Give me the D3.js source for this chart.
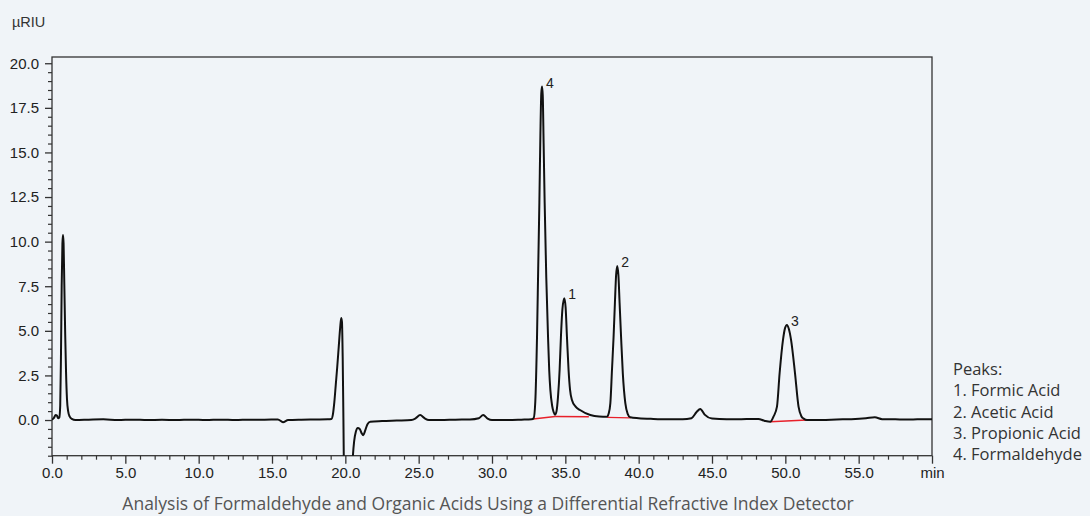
<!DOCTYPE html>
<html>
<head>
<meta charset="utf-8">
<script src="https://cdn.jsdelivr.net/npm/d3@7"></script>
<style>
  html, body { margin: 0; padding: 0; background: #f0f4f8; }
  svg { display: block; }
</style>
</head>
<body>
<svg id="chart" width="1090" height="516"></svg>
<script>
// Retention time (min) of each recorded point of the RI trace
const traceTime = [
  0.0, 0.12, 0.25, 0.33, 0.42, 0.5, 0.56, 0.61, 0.66, 0.71, 0.75, 0.79, 0.84, 0.9, 0.96, 1.02, 1.1, 1.2, 1.35, 1.6,
  2.5, 3.5, 4.5, 5.5, 6.5, 7.5, 8.5, 9.5, 10.5, 11.5, 12.5, 13.5, 14.5, 15.4, 15.75, 16.1, 17.0, 18.0, 18.8,
  19.05, 19.15, 19.25, 19.35, 19.45, 19.55, 19.65, 19.72, 19.77, 19.82, 19.87, 19.92,
  20.42, 20.5, 20.6, 20.72, 20.85, 20.98, 21.12, 21.22, 21.35, 21.5, 21.7, 22.5, 23.5, 24.5, 24.8, 25.1, 25.4, 25.7,
  26.5, 27.5, 28.5, 29.1, 29.4, 29.7, 30.0, 31.0, 32.0, 32.7,
  32.84, 32.95, 33.07, 33.15, 33.23, 33.3, 33.36, 33.41, 33.46, 33.52, 33.59, 33.7, 33.82, 33.9, 33.98, 34.1, 34.2, 34.3,
  34.4, 34.5, 34.61, 34.7, 34.8, 34.93, 35.02, 35.11, 35.22, 35.32, 35.45, 35.7, 36.0, 36.7, 37.3, 37.84,
  37.95, 38.07, 38.18, 38.29, 38.38, 38.46, 38.54, 38.62, 38.7, 38.8, 38.92, 39.09, 39.25, 39.43,
  40.0, 41.0, 42.0, 43.0, 43.6, 43.95, 44.2, 44.5, 45.0, 46.0, 47.0, 48.16, 48.6, 48.97,
  49.2, 49.43, 49.61, 49.84, 49.98, 50.11, 50.24, 50.39, 50.66, 50.9, 51.1, 51.25, 51.48,
  52.5, 53.5, 54.5, 55.5, 56.1, 56.6, 57.5, 58.5, 59.5, 60.0
];
// Detector response (µRIU) at each of those times
const traceSignal = [
  0.02, 0.1, 0.28, 0.25, 0.1, 0.15, 0.8, 3.5, 7.5, 9.9, 10.37, 9.9, 7.6, 4.8, 2.6, 1.2, 0.5, 0.2, 0.06, 0.0,
  0.02, 0.04, 0.0, 0.02, 0.0, 0.01, 0.0, 0.02, 0.0, 0.02, 0.0, 0.02, 0.02, 0.03, -0.12, 0.0, 0.02, 0.03, 0.04,
  0.06, 0.3, 1.0, 2.0, 3.0, 4.1, 5.2, 5.72, 5.5, 3.5, 0.0, -3.5,
  -3.5, -2.2, -1.2, -0.65, -0.45, -0.5, -0.75, -0.85, -0.6, -0.25, -0.1, -0.06, -0.03, 0.0, 0.1, 0.28, 0.1, 0.0,
  0.0, 0.02, 0.03, 0.1, 0.28, 0.08, 0.0, 0.0, 0.02, 0.04,
  0.1, 1.0, 4.7, 8.5, 12.2, 16.0, 18.3, 18.69, 18.2, 15.5, 12.2, 8.0, 4.67, 2.8, 1.68, 0.8, 0.45, 0.3,
  0.5, 1.3, 2.8, 4.67, 6.2, 6.82, 6.3, 4.67, 2.8, 1.7, 1.12, 0.75, 0.56, 0.28, 0.2, 0.19,
  0.35, 0.95, 2.8, 4.67, 6.56, 8.1, 8.64, 8.1, 6.56, 4.67, 2.6, 0.95, 0.35, 0.15,
  0.1, 0.06, 0.04, 0.04, 0.1, 0.45, 0.62, 0.3, 0.08, 0.04, 0.05, 0.06, -0.05, -0.1,
  0.2, 0.75, 2.62, 4.49, 5.15, 5.33, 5.1, 4.49, 2.62, 0.75, 0.2, 0.08, 0.0,
  0.0, 0.03, 0.05, 0.1, 0.15, 0.05, 0.04, 0.03, 0.05, 0.05
];

// Integration baselines drawn under the identified peaks: [t0, v0, t1, v1]
const peakBaselines = [
  [32.8, 0.06, 34.3, 0.2],
  [34.3, 0.2, 36.6, 0.18],
  [37.85, 0.15, 39.45, 0.12],
  [48.97, -0.1, 51.48, 0.0]
];

// Peak numbers and their apex positions
const peakNumbers = ["4", "1", "2", "3"];
const peakApexTime = [33.41, 34.93, 38.54, 50.11];
const peakApexSignal = [18.69, 6.82, 8.64, 5.33];

// Axis ticks
const xMajorTicks = [0, 5, 10, 15, 20, 25, 30, 35, 40, 45, 50, 55, 60];
const xTickLabels = ["0.0", "5.0", "10.0", "15.0", "20.0", "25.0", "30.0", "35.0", "40.0", "45.0", "50.0", "55.0", "min"];
const yMajorTicks = [0, 2.5, 5, 7.5, 10, 12.5, 15, 17.5, 20];
const yTickLabels = ["0.0", "2.5", "5.0", "7.5", "10.0", "12.5", "15.0", "17.5", "20.0"];

const legendTitle = "Peaks:";
const legendItems = ["1. Formic Acid", "2. Acetic Acid", "3. Propionic Acid", "4. Formaldehyde"];
const yUnit = "µRIU";
const caption = "Analysis of Formaldehyde and Organic Acids Using a Differential Refractive Index Detector";

// ---- layout ----
const plotLeft = 52, plotRight = 932, plotTop = 57, plotBottom = 455.7;
const svg = d3.select("#chart");
const axisColor = "#333";
const tickFont = "'Liberation Sans', Arial, sans-serif";
const textFont = "'Open Sans', 'Noto Sans', sans-serif";

const x = d3.scaleLinear().domain([0, 60]).range([plotLeft, plotRight]);
const y = d3.scaleLinear().domain([-2, 20.35]).range([plotBottom, plotTop]);

// minor tick positions
const xMinor = d3.range(0, 60.001, 1).filter(t => t % 5 !== 0);
const yMinor = d3.range(-2, 20.001, 0.5).map(v => +v.toFixed(2)).filter(v => Math.abs(v / 2.5 - Math.round(v / 2.5)) > 1e-6);

// X axis (major, labelled)
const xAxis = svg.append("g")
  .attr("transform", `translate(0,${plotBottom})`)
  .call(d3.axisBottom(x).tickValues(xMajorTicks).tickSize(8).tickPadding(4)
    .tickFormat((d, i) => xTickLabels[i]));
xAxis.select(".domain").remove();
xAxis.selectAll("line").attr("stroke", axisColor).attr("stroke-width", 1.3);
xAxis.selectAll("text").attr("fill", "#222").style("font-family", tickFont).style("font-size", "15px");

const xAxisMinor = svg.append("g")
  .attr("transform", `translate(0,${plotBottom})`)
  .call(d3.axisBottom(x).tickValues(xMinor).tickSize(4).tickFormat(""));
xAxisMinor.select(".domain").remove();
xAxisMinor.selectAll("line").attr("stroke", axisColor).attr("stroke-width", 1.2);

// Y axis
const yAxis = svg.append("g")
  .attr("transform", `translate(${plotLeft},0)`)
  .call(d3.axisLeft(y).tickValues(yMajorTicks).tickSize(7).tickPadding(6)
    .tickFormat((d, i) => yTickLabels[i]));
yAxis.select(".domain").remove();
yAxis.selectAll("line").attr("stroke", axisColor).attr("stroke-width", 1.3);
yAxis.selectAll("text").attr("fill", "#222").style("font-family", tickFont).style("font-size", "15px");

const yAxisMinor = svg.append("g")
  .attr("transform", `translate(${plotLeft},0)`)
  .call(d3.axisLeft(y).tickValues(yMinor).tickSize(4).tickFormat(""));
yAxisMinor.select(".domain").remove();
yAxisMinor.selectAll("line").attr("stroke", axisColor).attr("stroke-width", 1.2);

// Plot frame
svg.append("rect")
  .attr("x", plotLeft).attr("y", plotTop)
  .attr("width", plotRight - plotLeft).attr("height", plotBottom - plotTop)
  .attr("fill", "none").attr("stroke", axisColor).attr("stroke-width", 1.3);

// Clip the trace to the plot frame
svg.append("clipPath").attr("id", "plotClip")
  .append("rect").attr("x", plotLeft).attr("y", plotTop)
  .attr("width", plotRight - plotLeft).attr("height", plotBottom - plotTop);

const plot = svg.append("g").attr("clip-path", "url(#plotClip)");

// Integration baselines
plot.selectAll("line.base")
  .data(peakBaselines)
  .join("line")
  .attr("class", "base")
  .attr("x1", d => x(d[0])).attr("y1", d => y(d[1]))
  .attr("x2", d => x(d[2])).attr("y2", d => y(d[3]))
  .attr("stroke", "#e8202a").attr("stroke-width", 1.4);

// Chromatogram trace
const tracePoints = traceTime.map((t, i) => [t, traceSignal[i]]);
const line = d3.line()
  .x(d => x(d[0]))
  .y(d => y(d[1]))
  .curve(d3.curveMonotoneX);

plot.append("path")
  .datum(tracePoints)
  .attr("d", line)
  .attr("fill", "none")
  .attr("stroke", "#111")
  .attr("stroke-width", 2)
  .attr("stroke-linejoin", "round");

// Peak numbers beside the apexes
svg.selectAll("text.peak")
  .data(peakNumbers)
  .join("text")
  .attr("class", "peak")
  .attr("x", (d, i) => x(peakApexTime[i]) + 4)
  .attr("y", (d, i) => y(peakApexSignal[i]) + 1)
  .attr("fill", "#222")
  .style("font-family", tickFont)
  .style("font-size", "14px")
  .text(d => d);

// Unit label
svg.append("text")
  .attr("x", 12).attr("y", 27)
  .attr("fill", "#333")
  .style("font-family", tickFont)
  .style("font-size", "14.5px")
  .text(yUnit);

// Peak legend
const legend = svg.append("g")
  .attr("transform", "translate(953,375)")
  .style("font-family", textFont)
  .style("font-size", "16.5px")
  .attr("fill", "#333");
legend.append("text").attr("x", 0).attr("y", 0).text(legendTitle);
legend.selectAll("text.item")
  .data(legendItems)
  .join("text")
  .attr("class", "item")
  .attr("x", 0)
  .attr("y", (d, i) => (i + 1) * 21.3)
  .text(d => d);

// Caption
svg.append("text")
  .attr("x", 488).attr("y", 510)
  .attr("text-anchor", "middle")
  .attr("fill", "#555")
  .style("font-family", textFont)
  .style("font-size", "17.5px")
  .text(caption);
</script>
</body>
</html>
